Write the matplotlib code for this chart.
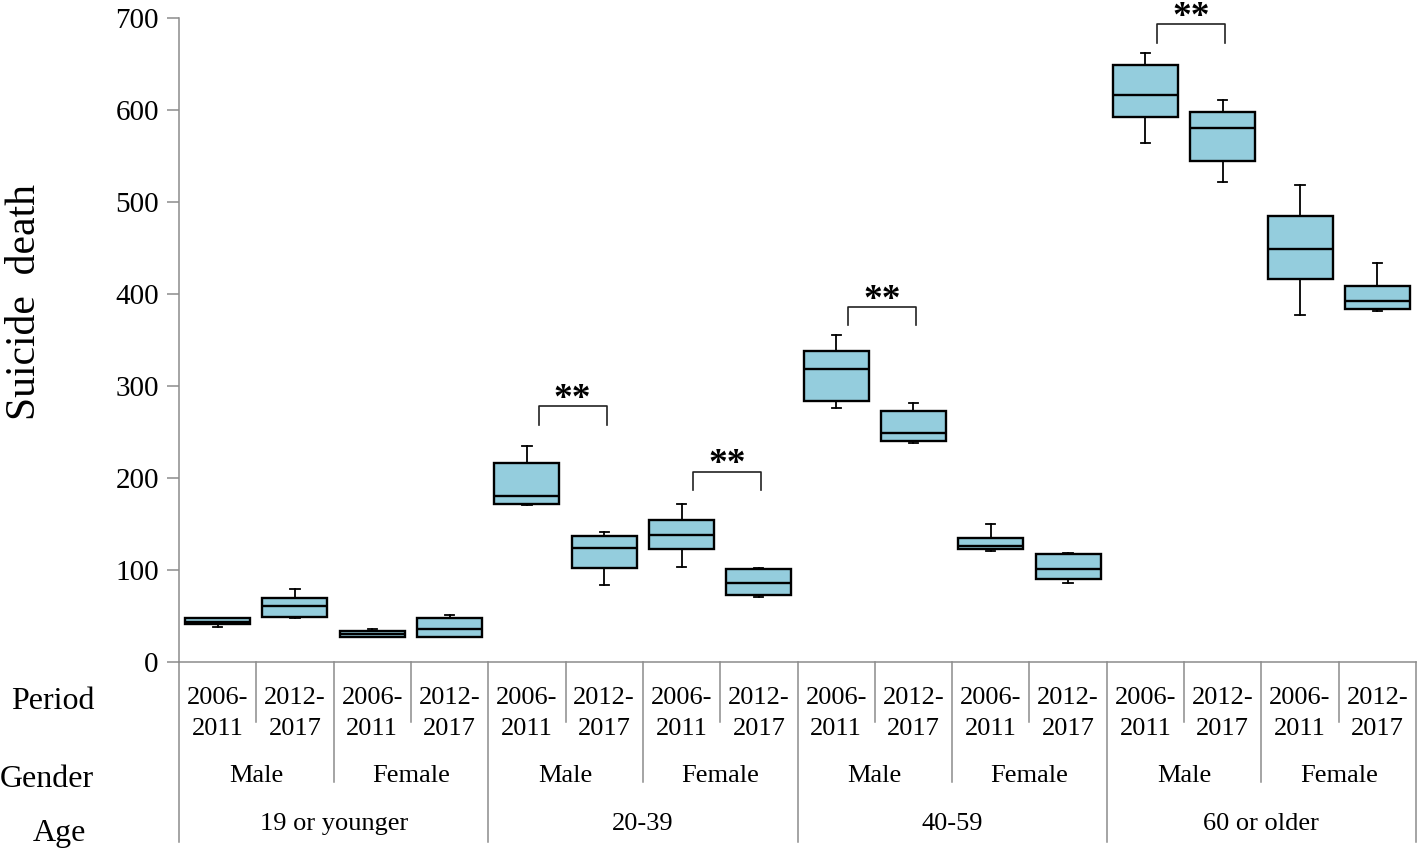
import matplotlib
matplotlib.use("Agg")
import matplotlib.pyplot as plt
from matplotlib import transforms

plt.rcParams['font.family'] = ['Liberation Serif', 'DejaVu Serif']

# categories
periods = ["2006-\n2011", "2012-\n2017"] * 8
genders = ["Male", "Female"] * 4
ages = ["19 or younger", "20-39", "40-59", "60 or older"]
row_names = ["Period", "Gender", "Age"]

# box statistics, one value per box (left to right)
whislo = [38, 48, 27, 27, 170.5, 84, 103, 71, 276, 238, 121, 85.5, 564, 521.5, 377.5, 382]
q1 = [41, 49, 27.5, 27.5, 172, 102, 123, 73, 284, 240, 122.5, 90, 592, 545, 416.5, 384]
med = [44, 60.5, 30.5, 35.5, 180, 124, 138, 85.5, 319, 249, 126, 101, 616, 580, 449, 392.5]
q3 = [47.5, 70, 33.5, 48, 216.5, 137, 154, 101, 338, 272.5, 134.5, 117.5, 648.5, 598, 484.5, 408.5]
whishi = [48, 79, 36, 51, 235, 141, 172, 102, 355, 282, 150, 118.5, 662, 611, 518.5, 433.5]

# significance brackets
sig_pairs = [(4, 5), (6, 7), (8, 9), (12, 13)]
sig_tops = [278, 207, 386, 693]
sig_label = "**"

W, H = 1424, 850
GREY = '#8c8c8c'


def fy(px):
    return 1 - px / H


fig = plt.figure(figsize=(W / 100, H / 100), dpi=100)
ax = fig.add_axes([179 / W, fy(662), (1416 - 179) / W, (662 - 18) / H])

stats = [dict(whislo=a, q1=b, med=c, q3=d, whishi=e)
         for a, b, c, d, e in zip(whislo, q1, med, q3, whishi)]
ax.bxp(stats, positions=list(range(len(stats))), widths=0.84,
       patch_artist=True, showfliers=False, capwidths=0.12,
       boxprops=dict(facecolor='#94CDDD', edgecolor='black', linewidth=1.7),
       medianprops=dict(color='black', linewidth=1.7),
       whiskerprops=dict(color='black', linewidth=1.3),
       capprops=dict(color='black', linewidth=1.3))

ax.set_xlim(-0.5, 15.5)
ax.set_ylim(0, 700)
ax.set_yticks(range(0, 701, 100))
ax.set_xticks([])
ax.tick_params(axis='y', length=8.5, width=1.1, color=GREY, pad=6,
               labelsize=21)
for s in ['top', 'right']:
    ax.spines[s].set_visible(False)
for s in ['left', 'bottom']:
    ax.spines[s].set_color(GREY)
    ax.spines[s].set_linewidth(1.1)

# brackets with stars
for (i, j), top in zip(sig_pairs, sig_tops):
    x0, x1 = i + 0.15, j + 0.03
    ax.plot([x0, x0, x1, x1], [top - 20, top, top, top - 20],
            color='#222222', lw=1.2, clip_on=False)
    ax.text((x0 + x1) / 2, top - 3, sig_label, ha='center', va='baseline',
            fontsize=27, fontweight='bold', clip_on=False)

# category table under the axis
trans = transforms.blended_transform_factory(ax.transData, fig.transFigure)
for k in range(len(periods) + 1):
    x = k - 0.5
    if k % 4 == 0:
        bottom = 842
    elif k % 2 == 0:
        bottom = 782
    else:
        bottom = 722
    ax.plot([x, x], [fy(662), fy(bottom)], transform=trans, clip_on=False,
            color=GREY, lw=1.1)

for i, lab in enumerate(periods):
    ax.text(i, fy(735), lab, transform=trans, ha='center', va='baseline',
            fontsize=19, linespacing=1.5)
for i, lab in enumerate(genders):
    ax.text(2 * i + 0.5, fy(782), lab, transform=trans, ha='center',
            va='baseline', fontsize=19)
for i, lab in enumerate(ages):
    ax.text(4 * i + 1.5, fy(830), lab, transform=trans, ha='center',
            va='baseline', fontsize=19)

for name, xc, yb in zip(row_names, [53, 47, 59], [709, 787, 841]):
    fig.text(xc / W, fy(yb), name, ha='center', va='baseline', fontsize=23)

fig.text(25 / W, fy(302), "Suicide  death", rotation=90, ha='center',
         va='center', fontsize=30)

fig.savefig('out.png', dpi=100)
